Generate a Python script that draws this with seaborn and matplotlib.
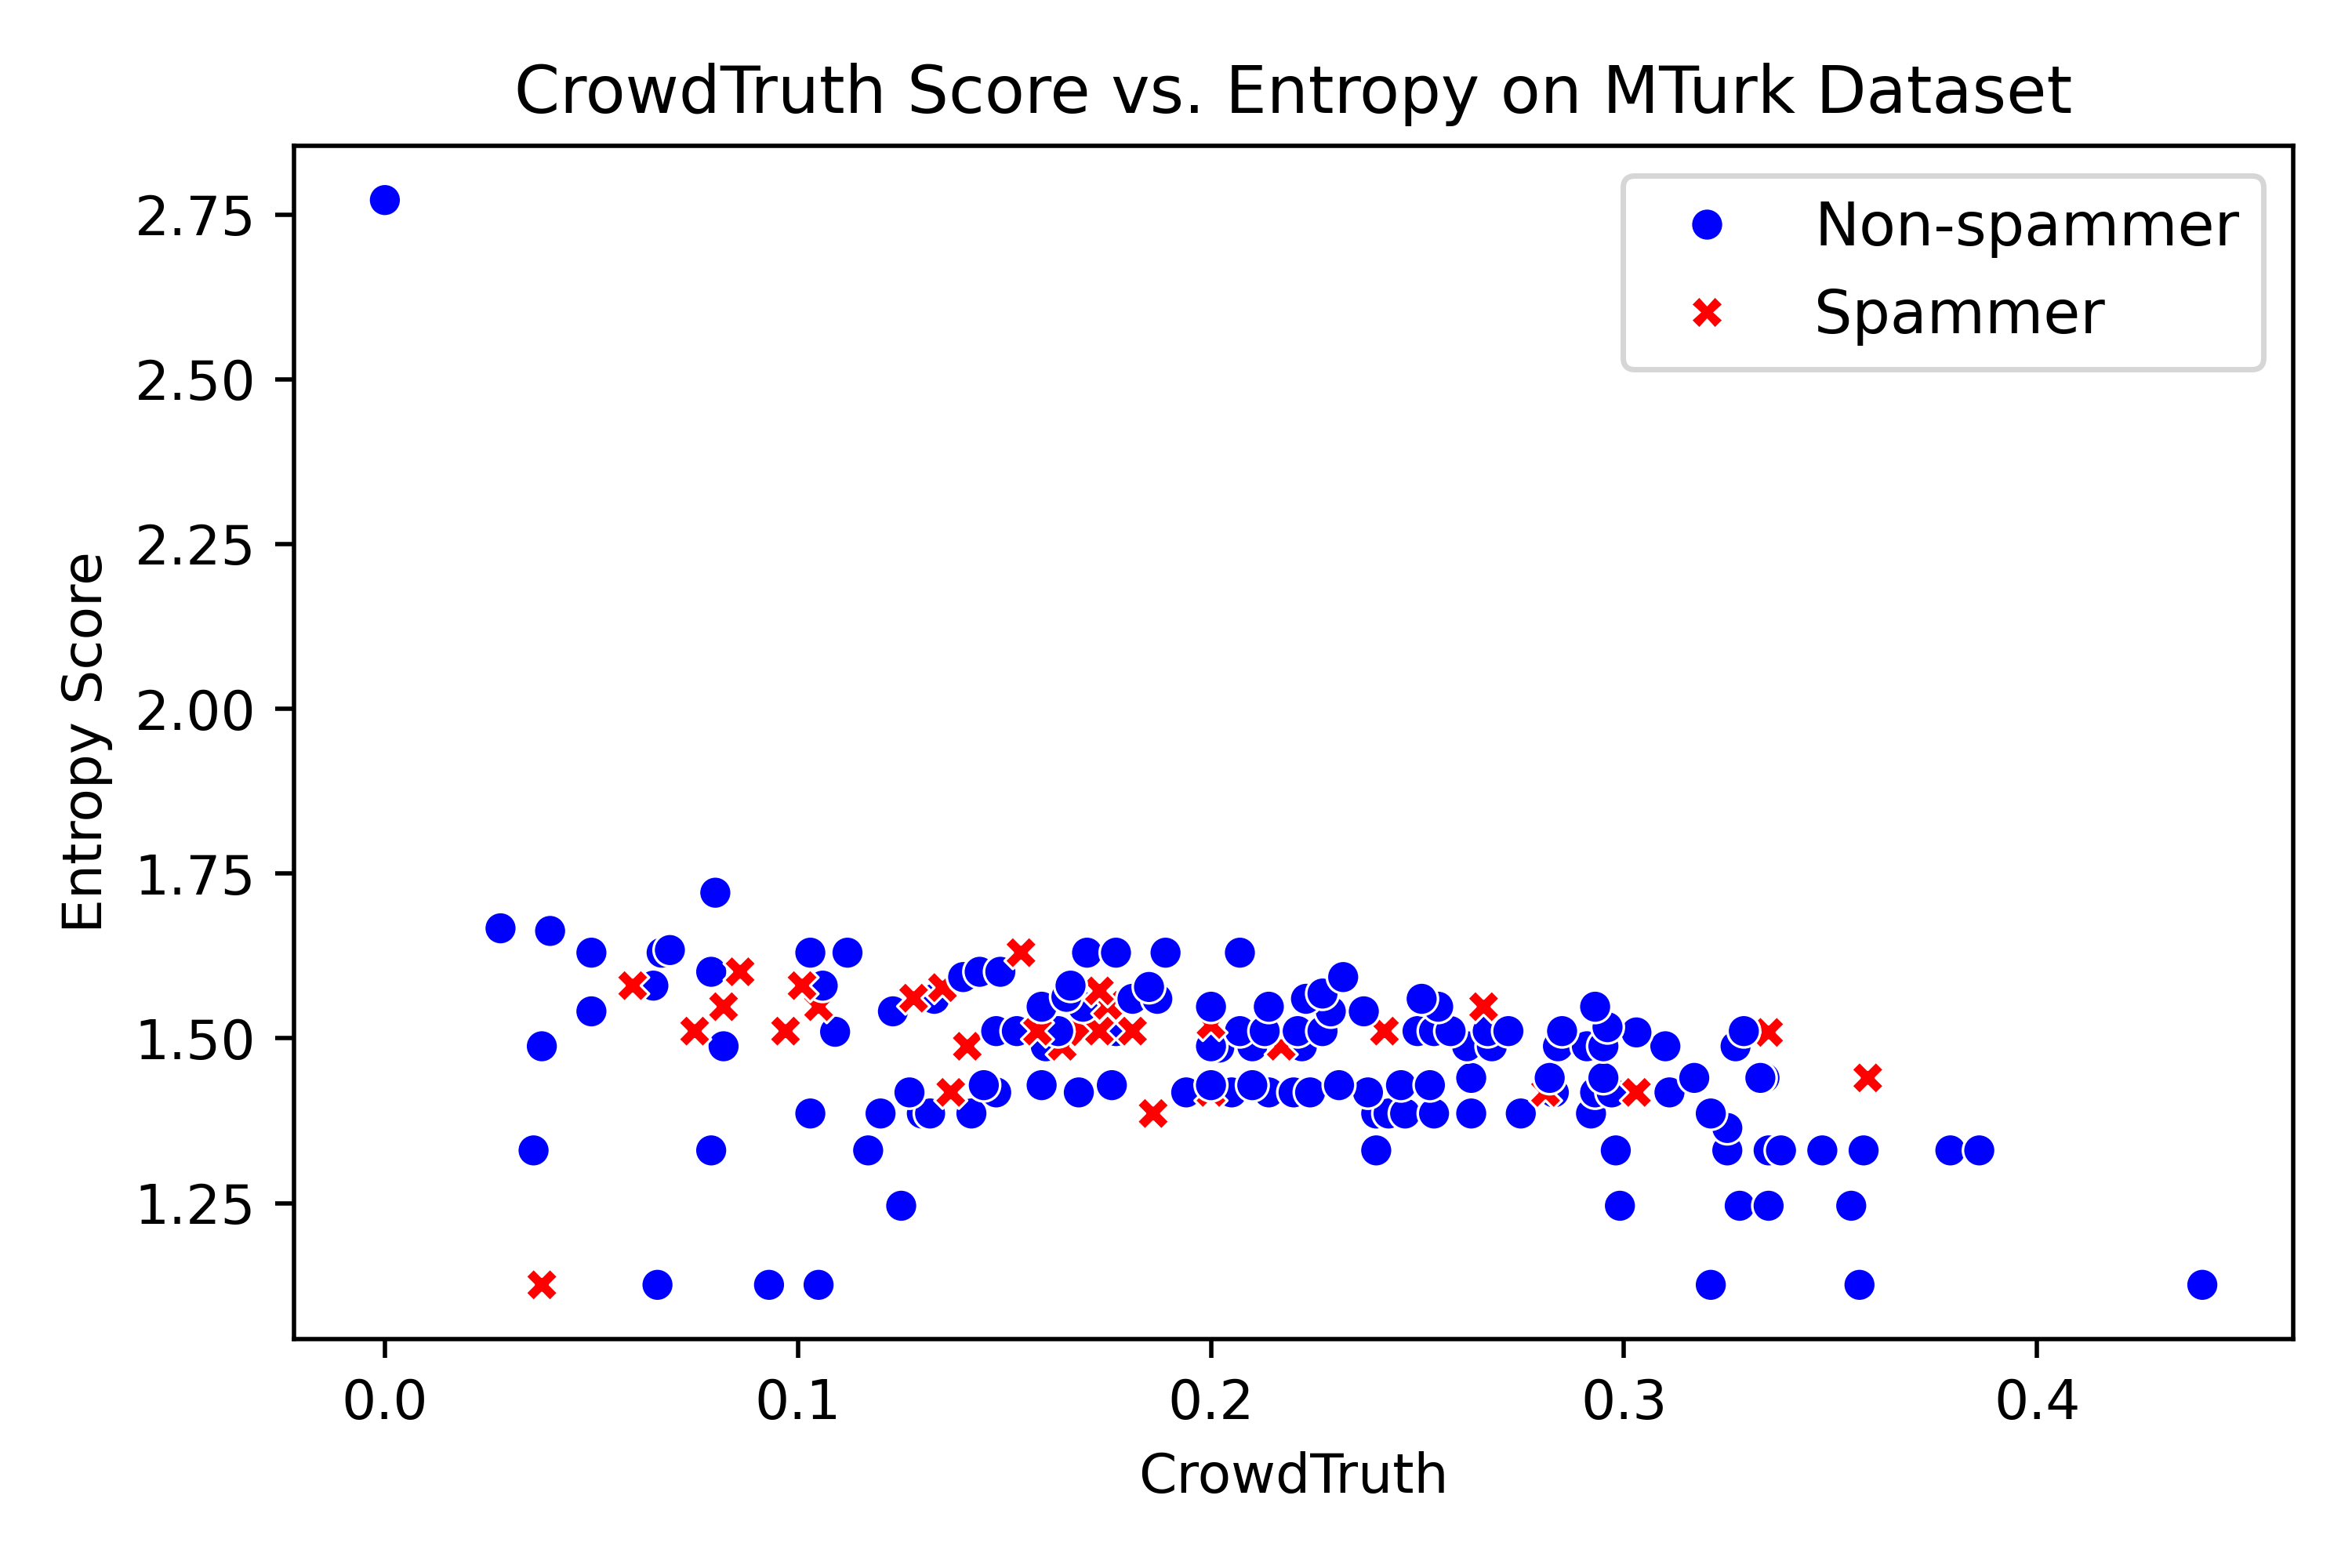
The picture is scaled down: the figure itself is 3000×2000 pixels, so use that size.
import numpy as np
import pandas as pd
import seaborn as sns
import matplotlib.pyplot as plt

# CrowdTruth score (x) and entropy score (y) per worker
nonspam_ct = [0.000, 0.028, 0.040, 0.050, 0.050, 0.038, 0.036, 0.066, 0.093, 0.105,
              0.065, 0.067, 0.069, 0.080, 0.079, 0.082, 0.079, 0.103, 0.112, 0.106,
              0.109, 0.103, 0.117, 0.125, 0.120, 0.123, 0.133, 0.140, 0.144, 0.149,
              0.127, 0.130, 0.132, 0.142, 0.145, 0.148, 0.148, 0.153, 0.159, 0.168,
              0.176, 0.159, 0.160, 0.163, 0.166, 0.165, 0.169, 0.177, 0.170, 0.177,
              0.189, 0.181, 0.185, 0.187, 0.207, 0.200, 0.200, 0.202, 0.194, 0.200,
              0.205, 0.210, 0.214, 0.220, 0.224, 0.231, 0.207, 0.210, 0.214, 0.213,
              0.221, 0.222, 0.223, 0.229, 0.227, 0.227, 0.232, 0.237, 0.246, 0.238,
              0.240, 0.240, 0.243, 0.247, 0.254, 0.263, 0.253, 0.251, 0.255, 0.250,
              0.254, 0.258, 0.262, 0.263, 0.267, 0.268, 0.272, 0.275, 0.282, 0.283,
              0.285, 0.284, 0.293, 0.296, 0.291, 0.295, 0.303, 0.310, 0.295, 0.293,
              0.297, 0.292, 0.311, 0.317, 0.298, 0.299, 0.321, 0.325, 0.325, 0.321,
              0.328, 0.335, 0.335, 0.338, 0.348, 0.358, 0.327, 0.329, 0.334, 0.333,
              0.355, 0.357, 0.379, 0.386, 0.440]
nonspam_ent = [2.772, 1.667, 1.663, 1.630, 1.541, 1.488, 1.330, 1.126, 1.126, 1.126,
               1.580, 1.630, 1.634, 1.721, 1.601, 1.488, 1.330, 1.630, 1.630, 1.580,
               1.510, 1.386, 1.330, 1.246, 1.386, 1.541, 1.560, 1.593, 1.601, 1.601,
               1.418, 1.386, 1.386, 1.386, 1.429, 1.418, 1.511, 1.511, 1.429, 1.418,
               1.429, 1.548, 1.488, 1.511, 1.580, 1.563, 1.548, 1.511, 1.630, 1.630,
               1.630, 1.560, 1.578, 1.560, 1.630, 1.548, 1.488, 1.486, 1.418, 1.429,
               1.418, 1.429, 1.418, 1.418, 1.418, 1.429, 1.511, 1.488, 1.548, 1.511,
               1.511, 1.488, 1.560, 1.541, 1.568, 1.511, 1.593, 1.541, 1.429, 1.418,
               1.330, 1.386, 1.386, 1.386, 1.386, 1.386, 1.429, 1.560, 1.548, 1.511,
               1.511, 1.511, 1.488, 1.440, 1.511, 1.488, 1.511, 1.386, 1.440, 1.418,
               1.511, 1.488, 1.548, 1.517, 1.488, 1.488, 1.509, 1.488, 1.440, 1.418,
               1.418, 1.386, 1.418, 1.440, 1.330, 1.246, 1.386, 1.364, 1.330, 1.126,
               1.246, 1.246, 1.330, 1.330, 1.330, 1.330, 1.488, 1.511, 1.440, 1.440,
               1.246, 1.126, 1.330, 1.330, 1.126]

spam_ct = [0.038, 0.060, 0.086, 0.082, 0.075, 0.097, 0.101, 0.105, 0.128, 0.135,
           0.154, 0.137, 0.141, 0.158, 0.164, 0.169, 0.173, 0.173, 0.175, 0.181,
           0.186, 0.200, 0.200, 0.217, 0.242, 0.266, 0.281, 0.303, 0.335, 0.359]
spam_ent = [1.126, 1.580, 1.601, 1.548, 1.511, 1.511, 1.580, 1.548, 1.561, 1.577,
            1.630, 1.418, 1.488, 1.511, 1.488, 1.510, 1.511, 1.572, 1.550, 1.511,
            1.386, 1.521, 1.418, 1.488, 1.511, 1.548, 1.418, 1.418, 1.509, 1.440]

labels = ["Non-spammer", "Spammer"]

df = pd.DataFrame({
    "CrowdTruth": nonspam_ct + spam_ct,
    "Entropy": nonspam_ent + spam_ent,
    "Worker": [labels[0]] * len(nonspam_ct) + [labels[1]] * len(spam_ct),
})
# mix the two groups so overlaps look like the original draw order
df = df.sort_values("Entropy", kind="stable").reset_index(drop=True)

fig, ax = plt.subplots(figsize=(6, 4))
sns.scatterplot(data=df, x="CrowdTruth", y="Entropy", hue="Worker", style="Worker",
                hue_order=labels, style_order=labels,
                palette={"Non-spammer": "blue", "Spammer": "red"},
                markers={"Non-spammer": "o", "Spammer": "X"}, ax=ax)

ax.set_title("CrowdTruth Score vs. Entropy on MTurk Dataset", fontsize=12)
ax.set_xlabel("CrowdTruth")
ax.set_ylabel("Entropy Score")
ax.legend(loc="upper right", fontsize=11)

fig.subplots_adjust(left=0.125, right=0.975, top=0.907, bottom=0.146)
fig.savefig("out.png", dpi=500)
